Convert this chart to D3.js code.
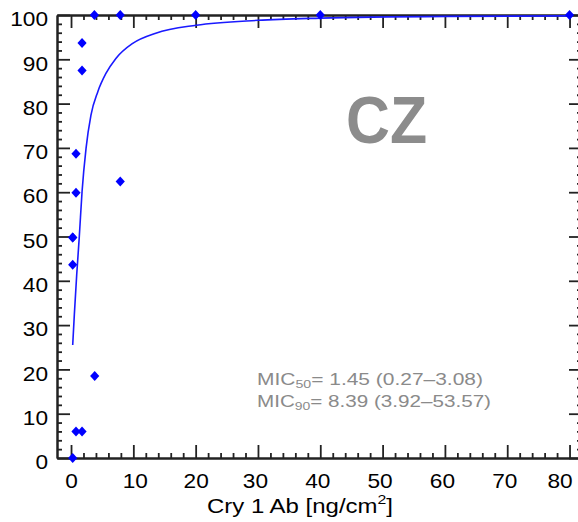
<!DOCTYPE html>
<html lang="en">
<head>
<meta charset="UTF-8">
<title>CZ</title>
<style>
    body { margin: 0; background: #fff; }
    text { font-family: "Liberation Sans", Arial, sans-serif; }
</style>
</head>
<body>
<script src="https://d3js.org/d3.v7.min.js"></script>
<script>
    // observed points (dose, % mortality)
    let doseX = [0.27, 0.27, 0.27, 0.8, 1.77, 3.8, 0.27, 0.8, 0.8, 7.9, 1.77, 1.77, 3.75, 7.9, 20, 40, 80];
    let respY = [0, 43.6, 49.8, 6.0, 6.0, 18.5, 49.8, 59.9, 68.7, 62.4, 87.5, 93.7, 100, 100, 100, 100, 100];
    // fitted curve
    let fitX = [0.27, 0.53, 0.91, 1.33, 1.77, 2.41, 3.2, 4.3, 5.6, 7.2, 9.9, 13.6, 20.1, 30, 40, 60, 80];
    let fitY = [25.5, 32.3, 41.3, 50.0, 60.1, 69.9, 77.4, 82.7, 86.8, 90.2, 93.6, 95.9, 97.7, 98.8, 99.3, 99.7, 99.8];
    let xTicks = [0, 10, 20, 30, 40, 50, 60, 70, 80];
    let yTicks = [0, 10, 20, 30, 40, 50, 60, 70, 80, 90, 100];
    let micLines = [["50", "= 1.45 (0.27\u20133.08)"], ["90", "= 8.39 (3.92\u201353.57)"]];

    let w = 578, h = 522;
    let box = {left: 57, right: 582, top: 15, bottom: 458};

    let svg = d3.select("body").append("svg")
        .attr("width", w)
        .attr("height", h);

    let xScale = d3.scaleLinear().domain([-2.25, 82]).range([box.left, box.right]);
    let yScale = d3.scaleLinear().domain([0, 100]).range([box.bottom, box.top]);

    let minorX = d3.range(0, 83, 2).filter(v => v % 10 !== 0);
    let minorY = d3.range(0, 101, 2).filter(v => v % 10 !== 0);

    // the original labels are drawn a bit wider than Liberation Sans
    function widen(sel) {
        sel.attr("textLength", d => String(d).length * 12.6)
            .attr("lengthAdjust", "spacingAndGlyphs");
    }

    function styleAxis(g) {
        g.select(".domain").attr("stroke", "#222").attr("stroke-width", 2);
        g.selectAll(".tick line").attr("stroke", "#222").attr("stroke-width", 1.8);
        g.selectAll("text").style("font-size", "21px").attr("fill", "#000");
    }

    // bottom axis
    let xAx = svg.append("g")
        .attr("transform", "translate(0," + box.bottom + ")")
        .call(d3.axisBottom(xScale).tickValues(xTicks).tickSize(-13).tickPadding(15).tickSizeOuter(0))
        .call(styleAxis);
    xAx.selectAll("text").call(widen)
        .attr("dx", d => d === 80 ? -10 : (d >= 30 ? -3 : (d === 10 ? 1.5 : 0)));
    svg.append("g")
        .attr("transform", "translate(0," + box.bottom + ")")
        .call(d3.axisBottom(xScale).tickValues(minorX).tickSize(-5).tickFormat("").tickSizeOuter(0))
        .call(styleAxis);

    // top axis
    svg.append("g")
        .attr("transform", "translate(0," + box.top + ")")
        .call(d3.axisTop(xScale).tickValues(xTicks).tickSize(-13).tickFormat("").tickSizeOuter(0))
        .call(styleAxis);
    svg.append("g")
        .attr("transform", "translate(0," + box.top + ")")
        .call(d3.axisTop(xScale).tickValues(minorX).tickSize(-5).tickFormat("").tickSizeOuter(0))
        .call(styleAxis);

    // left axis
    let yAx = svg.append("g")
        .attr("transform", "translate(" + box.left + ",0)")
        .call(d3.axisLeft(yScale).tickValues(yTicks).tickSize(-13).tickPadding(9).tickSizeOuter(0))
        .call(styleAxis);
    yAx.selectAll("text").call(widen)
        .attr("dy", "0.32em").attr("transform", "translate(0,4)");
    svg.append("g")
        .attr("transform", "translate(" + box.left + ",0)")
        .call(d3.axisLeft(yScale).tickValues(minorY).tickSize(-5).tickFormat("").tickSizeOuter(0))
        .call(styleAxis);

    // right axis (runs off the edge)
    svg.append("g")
        .attr("transform", "translate(" + box.right + ",0)")
        .call(d3.axisRight(yScale).tickValues(yTicks).tickSize(-13).tickFormat("").tickSizeOuter(0))
        .call(styleAxis);
    svg.append("g")
        .attr("transform", "translate(" + box.right + ",0)")
        .call(d3.axisRight(yScale).tickValues(minorY).tickSize(-5).tickFormat("").tickSizeOuter(0))
        .call(styleAxis);

    // fitted curve
    let line = d3.line()
        .x((d, i) => xScale(fitX[i]))
        .y((d, i) => yScale(fitY[i]))
        .curve(d3.curveMonotoneX);
    svg.append("path")
        .attr("d", line(fitX))
        .attr("fill", "none")
        .attr("stroke", "#1a1aff")
        .attr("stroke-width", 1.6);

    // data points as diamonds
    svg.append("g")
        .selectAll("path")
        .data(doseX)
        .enter()
        .append("path")
        .attr("transform", (d, i) => "translate(" + xScale(d) + "," + yScale(respY[i]) + ")")
        .attr("d", "M0,-5L4.6,0L0,5L-4.6,0Z")
        .attr("fill", "#0000ff");

    // CZ label
    svg.append("text")
        .attr("x", 346)
        .attr("y", 143)
        .attr("textLength", 81)
        .attr("lengthAdjust", "spacingAndGlyphs")
        .style("font-size", "66px")
        .style("font-weight", "bold")
        .attr("fill", "#8c8c8c")
        .text("CZ");

    // MIC annotation
    let micLen = [226, 234];
    micLines.forEach(function (m, i) {
        let t = svg.append("text")
            .attr("x", 257)
            .attr("y", 385 + i * 21.5)
            .attr("textLength", micLen[i])
            .attr("lengthAdjust", "spacingAndGlyphs")
            .style("font-size", "17px")
            .attr("fill", "#8a8a8a");
        t.append("tspan").text("MIC");
        t.append("tspan").attr("dy", 3).style("font-size", "11.5px").text(m[0]);
        t.append("tspan").attr("dy", -3).text(m[1]);
    });

    // x axis title
    let xt = svg.append("text")
        .attr("x", 207)
        .attr("y", 513)
        .attr("textLength", 186)
        .attr("lengthAdjust", "spacingAndGlyphs")
        .style("font-size", "20.5px")
        .attr("fill", "#000");
    xt.append("tspan").text("Cry 1 Ab [ng/cm");
    xt.append("tspan").attr("dy", -9).style("font-size", "13.5px").text("2");
    xt.append("tspan").attr("dy", 9).text("]");
</script>
</body>
</html>
